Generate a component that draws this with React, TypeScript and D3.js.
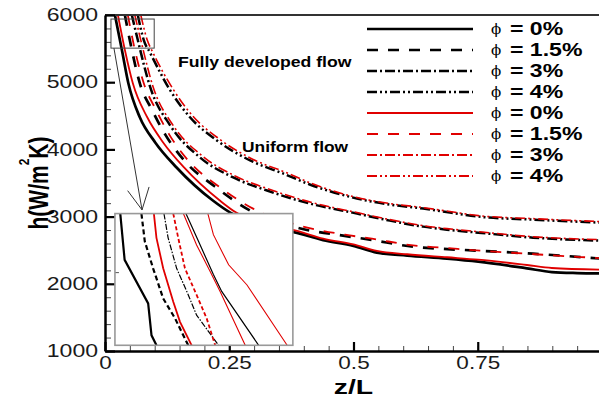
import React, { useEffect, useRef } from 'react';
import * as d3 from 'd3';

const WIDTH = 599;
const HEIGHT = 398;

// axis ticks
const xTicks = [0, 0.25, 0.5, 0.75];
const xTickLabels = ['0', '0.25', '0.5', '0.75'];
const yTicks = [1000, 2000, 3000, 4000, 5000, 6000];

const legendLabels = ['0%', '1.5%', '3%', '4%', '0%', '1.5%', '3%', '4%'];

// main curves: [z/L, h (W/m2K)]
// fully developed flow (black)
const fd0 = [[0.020, 6000], [0.034, 5480], [0.047, 4985], [0.070, 4478], [0.101, 4104], [0.144, 3731], [0.217, 3239], [0.252, 3060], [0.320, 2880], [0.392, 2746], [0.439, 2650], [0.500, 2565], [0.547, 2465], [0.608, 2420], [0.688, 2375], [0.751, 2330], [0.849, 2230], [0.899, 2175], [0.950, 2160], [1.0, 2155]];
const fd15 = [[0.040, 6000], [0.052, 5552], [0.070, 4985], [0.095, 4582], [0.121, 4224], [0.161, 3821], [0.221, 3448], [0.292, 3090], [0.386, 2836], [0.479, 2716], [0.533, 2657], [0.620, 2552], [0.674, 2522], [0.751, 2493], [0.861, 2448], [1.0, 2373]];
const fd3 = [[0.054, 6000], [0.066, 5627], [0.091, 4925], [0.131, 4358], [0.191, 3881], [0.258, 3582], [0.326, 3388], [0.412, 3194], [0.507, 3045], [0.573, 2940], [0.640, 2851], [0.688, 2806], [0.751, 2761], [0.861, 2687], [1.0, 2642]];
const fd4 = [[0.066, 6000], [0.078, 5627], [0.091, 5433], [0.131, 4881], [0.171, 4478], [0.225, 4134], [0.292, 3836], [0.358, 3642], [0.412, 3478], [0.507, 3269], [0.573, 3179], [0.640, 3119], [0.694, 3060], [0.751, 3000], [0.861, 2955], [1.0, 2910]];
// uniform flow (red)
const uf0 = [[0.026, 6000], [0.040, 5480], [0.056, 4985], [0.085, 4478], [0.117, 4104], [0.159, 3731], [0.231, 3239], [0.264, 3060], [0.330, 2900], [0.392, 2776], [0.439, 2672], [0.500, 2585], [0.547, 2490], [0.608, 2440], [0.688, 2395], [0.751, 2360], [0.849, 2280], [0.899, 2235], [1.0, 2210]];
const uf15 = [[0.046, 6000], [0.058, 5552], [0.078, 4985], [0.103, 4582], [0.129, 4224], [0.169, 3821], [0.229, 3448], [0.298, 3119], [0.392, 2866], [0.483, 2731], [0.537, 2672], [0.624, 2567], [0.678, 2537], [0.755, 2493], [0.865, 2440], [1.0, 2380]];
const uf3 = [[0.060, 6000], [0.072, 5627], [0.097, 4925], [0.137, 4358], [0.197, 3896], [0.264, 3597], [0.332, 3403], [0.416, 3209], [0.507, 3060], [0.573, 2955], [0.640, 2866], [0.688, 2821], [0.751, 2776], [0.861, 2701], [1.0, 2657]];
const uf4 = [[0.072, 6000], [0.085, 5627], [0.097, 5433], [0.137, 4896], [0.177, 4493], [0.231, 4149], [0.298, 3851], [0.364, 3657], [0.416, 3493], [0.507, 3284], [0.573, 3194], [0.640, 3134], [0.694, 3075], [0.751, 3015], [0.861, 2970], [1.0, 2925]];

// inset: zoom of the entrance region
const insetFd0 = [[0.0127, 5950], [0.0149, 5792], [0.0268, 5643], [0.0285, 5534], [0.0310, 5500]];
const insetFd15 = [[0.0234, 5950], [0.0251, 5855], [0.0293, 5763], [0.0344, 5660], [0.0404, 5592], [0.0437, 5546], [0.0471, 5500]];
const insetUf0 = [[0.0297, 5950], [0.0310, 5867], [0.0344, 5763], [0.0395, 5649], [0.0429, 5580], [0.0488, 5500]];
const insetFd3 = [[0.0348, 5950], [0.0369, 5867], [0.0412, 5763], [0.0471, 5672], [0.0513, 5603], [0.0624, 5500]];
const insetUf15 = [[0.0395, 5950], [0.0420, 5867], [0.0454, 5763], [0.0513, 5672], [0.0564, 5592], [0.0607, 5500]];
const insetUf3 = [[0.0446, 5950], [0.0513, 5843], [0.0581, 5753], [0.0632, 5684], [0.0759, 5500]];
const insetFd4 = [[0.0459, 5950], [0.0522, 5856], [0.0598, 5742], [0.0640, 5684], [0.0827, 5500]];
const insetUf4 = [[0.0570, 5950], [0.0598, 5878], [0.0675, 5775], [0.0768, 5706], [0.0971, 5500]];

const insetDomainZ = [0.01, 0.10];
const insetDomainH = [5500, 5950];
const zoomBoxZ = [0.012, 0.099];
const zoomBoxH = [5507, 5940];
const insetBoxZ = [0.02, 0.378];
const insetBoxH = [1085, 3045];

const RED = '#e00000';
const DASH = '11,10';
const DASHDOT = '10,3,2,3';
const DASHDOTDOT = '10,3,2,3,2,3';

const series = [
  { data: fd0, inset: insetFd0, color: '#000', width: 2.7, dash: null, insetDash: null, insetWidth: 2.2 },
  { data: fd15, inset: insetFd15, color: '#000', width: 2.7, dash: DASH, insetDash: '5,3', insetWidth: 2.2 },
  { data: fd3, inset: insetFd3, color: '#000', width: 2.5, dash: DASHDOT, insetDash: '6,1.5,1.5,1.5', insetWidth: 1.2 },
  { data: fd4, inset: insetFd4, color: '#000', width: 2.5, dash: DASHDOTDOT, insetDash: null, insetWidth: 1.2 },
  { data: uf0, inset: insetUf0, color: RED, width: 1.8, dash: null, insetDash: null, insetWidth: 1.8 },
  { data: uf15, inset: insetUf15, color: RED, width: 1.8, dash: DASH, insetDash: '4,2.5', insetWidth: 1.8 },
  { data: uf3, inset: insetUf3, color: RED, width: 1.6, dash: DASHDOT, insetDash: null, insetWidth: 1.1 },
  { data: uf4, inset: insetUf4, color: RED, width: 1.6, dash: DASHDOTDOT, insetDash: null, insetWidth: 1.1 },
];

const SANS = "'Liberation Sans', Arial, Helvetica, sans-serif";
const SERIF = "'DejaVu Serif', 'Liberation Serif', serif";

// the picture is stretched horizontally, so text is widened to match
function stretch(sel: any, f: number) {
  sel.each(function (this: any) {
    const len = this.getComputedTextLength();
    d3.select(this).attr('textLength', len * f).attr('lengthAdjust', 'spacingAndGlyphs');
  });
}

export default function App() {
  const svgRef = useRef<SVGSVGElement>(null);

  useEffect(() => {
    const svg = d3.select(svgRef.current);
    svg.selectAll('*').remove();

    const x = d3.scaleLinear().domain([0, 1]).range([105, 602]);
    const y = d3.scaleLinear().domain([1000, 6000]).range([351, 15]);

    const defs = svg.append('defs');
    defs.append('clipPath').attr('id', 'plotClip')
      .append('rect')
      .attr('x', x(0)).attr('y', y(6000))
      .attr('width', x(1) - x(0)).attr('height', y(1000) - y(6000));

    // main curves
    const line = d3.line<number[]>().x(d => x(d[0])).y(d => y(d[1])).curve(d3.curveMonotoneX);
    const curves = svg.append('g').attr('clip-path', 'url(#plotClip)');
    series.forEach(s => {
      curves.append('path')
        .attr('d', line(s.data))
        .attr('fill', 'none')
        .attr('stroke', s.color)
        .attr('stroke-width', s.width)
        .attr('stroke-dasharray', s.dash)
        .attr('stroke-linejoin', 'round');
    });

    // top frame
    svg.append('line')
      .attr('x1', x(0)).attr('x2', WIDTH)
      .attr('y1', y(6000)).attr('y2', y(6000))
      .attr('stroke', '#333').attr('stroke-width', 2);

    // y axis
    const yMinor = svg.append('g').attr('transform', `translate(${x(0)},0)`)
      .call(d3.axisLeft(y).tickValues(y.ticks(25)).tickSize(-6).tickFormat(() => ''));
    yMinor.select('.domain').remove();
    yMinor.selectAll('line').attr('stroke', '#444').attr('stroke-width', 1);

    const yAxis = svg.append('g').attr('transform', `translate(${x(0)},0)`)
      .call(d3.axisLeft(y).tickValues(yTicks).tickSizeInner(-10).tickSizeOuter(0).tickPadding(7).tickFormat(d3.format('d')));
    yAxis.select('.domain').attr('stroke', '#000').attr('stroke-width', 2.5);
    yAxis.selectAll('line').attr('stroke', '#000').attr('stroke-width', 2.2);
    const yLabels = yAxis.selectAll('text')
      .attr('font-family', SANS).attr('font-size', 18).attr('fill', '#1a1a1a');
    stretch(yLabels, 1.28);

    // x axis
    const xMinor = svg.append('g').attr('transform', `translate(0,${y(1000)})`)
      .call(d3.axisBottom(x).tickValues(x.ticks(20)).tickSize(-5).tickFormat(() => ''));
    xMinor.select('.domain').remove();
    xMinor.selectAll('line').attr('stroke', '#444').attr('stroke-width', 1);

    const xAxis = svg.append('g').attr('transform', `translate(0,${y(1000)})`)
      .call(d3.axisBottom(x).tickValues(xTicks).tickSizeInner(-9).tickSizeOuter(0).tickPadding(5)
        .tickFormat((d, i) => xTickLabels[i]));
    xAxis.select('.domain').attr('stroke', '#000').attr('stroke-width', 2.5);
    xAxis.selectAll('line').attr('stroke', '#000').attr('stroke-width', 2.2);
    const xLabels = xAxis.selectAll('text')
      .attr('font-family', SANS).attr('font-size', 18).attr('fill', '#1a1a1a');
    stretch(xLabels, 1.25);

    // axis titles
    const xTitle = svg.append('text')
      .attr('x', x(0.5)).attr('y', 394)
      .attr('text-anchor', 'middle')
      .attr('font-family', SANS).attr('font-size', 21).attr('font-weight', 'bold')
      .text('z/L');
    stretch(xTitle, 1.35);

    const yTitle = svg.append('text')
      .attr('transform', 'translate(48,183) scale(1.28,1) rotate(-90)')
      .attr('text-anchor', 'middle')
      .attr('font-family', SANS).attr('font-size', 21).attr('font-weight', 'bold');
    yTitle.append('tspan').text('h(W/m');
    yTitle.append('tspan').attr('font-size', 12).attr('baseline-shift', 15).text('2');
    yTitle.append('tspan').text('K)');

    // zoom box and arrow
    svg.append('rect')
      .attr('x', x(zoomBoxZ[0])).attr('y', y(zoomBoxH[1]))
      .attr('width', x(zoomBoxZ[1]) - x(zoomBoxZ[0]))
      .attr('height', y(zoomBoxH[0]) - y(zoomBoxH[1]))
      .attr('fill', 'none').attr('stroke', '#444').attr('stroke-width', 1);

    const ax0 = x(0.018), ay0 = y(zoomBoxH[0]);
    const ax1 = x(0.0745), ay1 = y(3100);
    svg.append('line')
      .attr('x1', ax0).attr('y1', ay0).attr('x2', ax1).attr('y2', ay1)
      .attr('stroke', '#333').attr('stroke-width', 1);
    const ang = Math.atan2(ay0 - ay1, ax0 - ax1);
    [-0.47, 0.47].forEach(da => {
      svg.append('line')
        .attr('x1', ax1).attr('y1', ay1)
        .attr('x2', ax1 + 24 * Math.cos(ang + da)).attr('y2', ay1 + 24 * Math.sin(ang + da))
        .attr('stroke', '#333').attr('stroke-width', 1);
    });

    // inset
    const ix0 = x(insetBoxZ[0]), ix1 = x(insetBoxZ[1]);
    const iy0 = y(insetBoxH[1]), iy1 = y(insetBoxH[0]);
    const xi = d3.scaleLinear().domain(insetDomainZ).range([ix0, ix1]);
    const yi = d3.scaleLinear().domain(insetDomainH).range([iy1, iy0]);

    svg.append('rect')
      .attr('x', ix0).attr('y', iy0).attr('width', ix1 - ix0).attr('height', iy1 - iy0)
      .attr('fill', '#fff');
    defs.append('clipPath').attr('id', 'insetClip')
      .append('rect').attr('x', ix0).attr('y', iy0).attr('width', ix1 - ix0).attr('height', iy1 - iy0);

    const insetLine = d3.line<number[]>().x(d => xi(d[0])).y(d => yi(d[1]));
    const insetG = svg.append('g').attr('clip-path', 'url(#insetClip)');
    series.forEach(s => {
      insetG.append('path')
        .attr('d', insetLine(s.inset))
        .attr('fill', 'none')
        .attr('stroke', s.color)
        .attr('stroke-width', s.insetWidth)
        .attr('stroke-dasharray', s.insetDash);
    });

    svg.append('g').attr('transform', `translate(${ix0},0)`)
      .call(d3.axisLeft(yi).tickValues([5750]).tickSize(-4).tickFormat(() => ''))
      .call(g => g.select('.domain').remove())
      .selectAll('line').attr('stroke', '#555');

    svg.append('rect')
      .attr('x', ix0).attr('y', iy0).attr('width', ix1 - ix0).attr('height', iy1 - iy0)
      .attr('fill', 'none').attr('stroke', '#999').attr('stroke-width', 1.6);

    // flow annotations
    const fdText = svg.append('text')
      .attr('x', 178).attr('y', 67)
      .attr('font-family', SANS).attr('font-size', 14).attr('font-weight', 'bold')
      .text('Fully developed flow');
    stretch(fdText, 1.26);
    const ufText = svg.append('text')
      .attr('x', 242).attr('y', 152)
      .attr('font-family', SANS).attr('font-size', 14).attr('font-weight', 'bold')
      .text('Uniform flow');
    stretch(ufText, 1.24);

    // legend
    const legend = svg.append('g');
    series.forEach((s, i) => {
      const ly = 29 + i * 21;
      legend.append('line')
        .attr('x1', 367).attr('x2', 473).attr('y1', ly).attr('y2', ly)
        .attr('stroke', s.color).attr('stroke-width', s.color === RED ? 1.8 : 2.7)
        .attr('stroke-dasharray', s.dash);
      legend.append('text')
        .attr('x', 491).attr('y', ly + 5)
        .attr('font-family', SERIF).attr('font-size', 15)
        .text('\u03D5');
      const t = legend.append('text')
        .attr('x', 510).attr('y', ly + 6)
        .attr('font-family', SANS).attr('font-size', 18).attr('font-weight', 'bold')
        .text(`= ${legendLabels[i]}`);
      stretch(t, 1.28);
    });
  }, []);

  return (
    <div style={{ position: 'fixed', left: 0, top: 0, width: WIDTH, height: HEIGHT, background: '#fff' }}>
      <svg ref={svgRef} width={WIDTH} height={HEIGHT} style={{ display: 'block' }} />
    </div>
  );
}
